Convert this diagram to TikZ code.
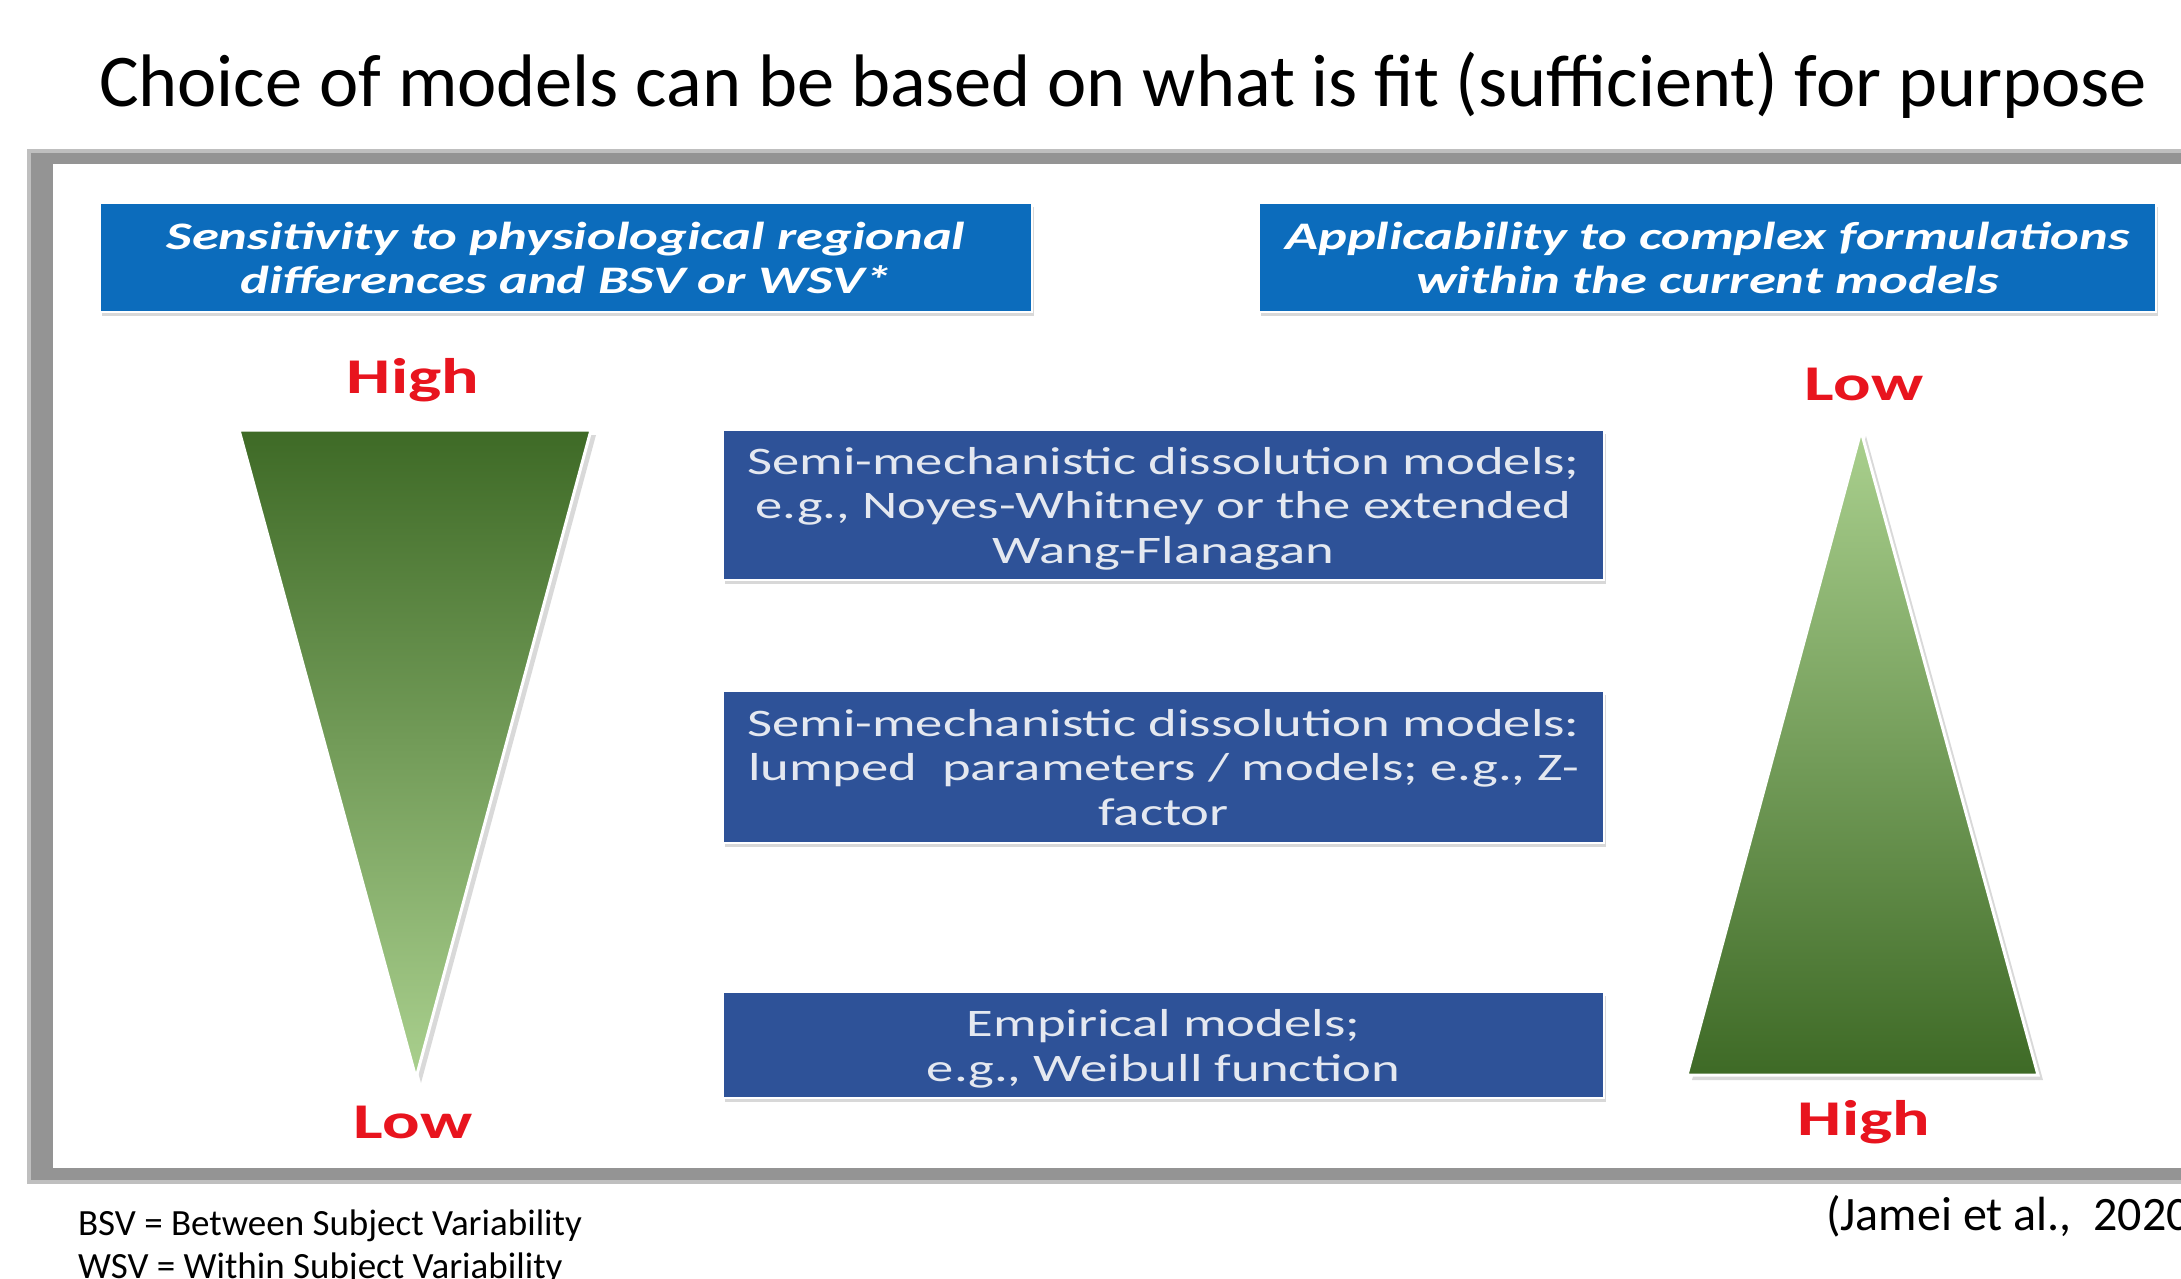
\documentclass[tikz,border=0pt]{standalone}
\usepackage{fontspec}
\setmainfont{Carlito}
\usepackage{graphicx}
\usepackage{xcolor}
\usetikzlibrary{shadows}

\definecolor{headblue}{RGB}{12,108,188}
\definecolor{modelblue}{RGB}{46,82,152}
\definecolor{modeltext}{RGB}{228,232,240}
\definecolor{darkleaf}{RGB}{62,106,38}
\definecolor{midleaf}{RGB}{96,158,60}
\definecolor{lightleaf}{RGB}{170,208,142}
\definecolor{levelred}{RGB}{232,20,30}
\definecolor{framegray}{RGB}{148,148,148}

% wide lettering used inside the panel
\newcommand{\wide}[1]{\scalebox{1.4}[1]{#1}}
\newcommand{\widelines}[1]{\raisebox{-2.5pt}[\height][\depth]{\scalebox{1.4}[1]{\begin{tabular}{@{}c@{}}#1\end{tabular}}}}

\begin{document}
\begin{tikzpicture}[x=0.5pt, y=-0.5pt,
    headbox/.style={rectangle, fill=headblue, draw=white, line width=1.2pt, inner sep=0pt,
      minimum height=54.5pt, text=white, font=\fontsize{19.5}{22.25}\selectfont\bfseries\itshape,
      drop shadow={shadow xshift=1pt, shadow yshift=-2pt, opacity=0.3}},
    modelbox/.style={rectangle, fill=modelblue, draw=white, line width=1.2pt, inner sep=0pt,
      minimum width=440.5pt, text=modeltext, font=\fontsize{19.5}{22.25}\selectfont,
      drop shadow={shadow xshift=1pt, shadow yshift=-2pt, opacity=0.3}},
    level/.style={text=levelred, font=\fontsize{25}{30}\selectfont\bfseries},
    note/.style={anchor=base west, font=\fontsize{18.5}{21.5}\selectfont}]

    \useasboundingbox (0,0) rectangle (2181,1279);
    \clip (0,0) rectangle (2181,1279);

    % Title
    \node[anchor=base, font=\fontsize{37.2}{44}\selectfont] (title) at (1123,107)
        {Choice of models can be based on what is fit (sufficient) for purpose};

    % Panel with grey frame
    \fill[framegray!60] (27,149) rectangle (2200,1184);
    \fill[framegray] (31,153) rectangle (2200,1180);
    \fill[white] (53,164) rectangle (2200,1168);

    % Axis headings
    \node[headbox, minimum width=466pt] (sens) at (566,257.5)
        {\widelines{Sensitivity to physiological regional\\ differences and BSV or WSV*}};
    \node[headbox, minimum width=448.5pt] (appl) at (1707.5,257.5)
        {\widelines{Applicability to complex formulations\\ within the current models}};

    % Left wedge (sensitivity)
    \coordinate (sl) at (239,430);
    \coordinate (sr) at (591,430);
    \coordinate (stip) at (416,1078);
    \fill[black, opacity=0.15] ([shift={(5,5)}]sl) -- ([shift={(5,5)}]sr) -- ([shift={(5,5)}]stip) -- cycle;
    \shade[top color=darkleaf, middle color=midleaf, bottom color=lightleaf, draw=white, line width=1.5pt]
        (sl) -- (sr) -- (stip) -- cycle;
    \node[level] (sensHigh) at (413,380) {\wide{High}};
    \node[level] (sensLow) at (413,1122) {\wide{Low}};

    % Right wedge (applicability)
    \coordinate (atip) at (1861,431);
    \coordinate (al) at (1687,1075);
    \coordinate (ar) at (2038,1075);
    \fill[black, opacity=0.15] ([shift={(5,5)}]atip) -- ([shift={(5,5)}]ar) -- ([shift={(5,5)}]al) -- cycle;
    \shade[top color=lightleaf, middle color=midleaf, bottom color=darkleaf, draw=white, line width=1.5pt]
        (atip) -- (ar) -- (al) -- cycle;
    \node[level] (applLow) at (1864,384) {\wide{Low}};
    \node[level] (applHigh) at (1864,1122) {\wide{High}};

    % Model classes
    \node[modelbox, minimum height=75pt] (semi) at (1163.5,505)
        {\widelines{Semi-mechanistic dissolution models;\\ e.g., Noyes-Whitney or the extended\\ Wang-Flanagan}};
    \node[modelbox, minimum height=76pt] (lumped) at (1163.5,767)
        {\widelines{Semi-mechanistic dissolution models:\\ lumped\ \ parameters / models; e.g., Z-\\ factor}};
    \node[modelbox, minimum height=53pt] (empir) at (1163.5,1045)
        {\widelines{Empirical models;\\ e.g., Weibull function}};

    % Footnotes
    \node[note] (bsv) at (71,1235) {BSV = Between Subject Variability};
    \node[note] (wsv) at (71,1278) {WSV = Within Subject Variability};
    \node[anchor=base west, font=\fontsize{24}{28}\selectfont] (cite) at (1819,1230)
        {(Jamei et al.,\ \ 2020)};
\end{tikzpicture}
\end{document}
